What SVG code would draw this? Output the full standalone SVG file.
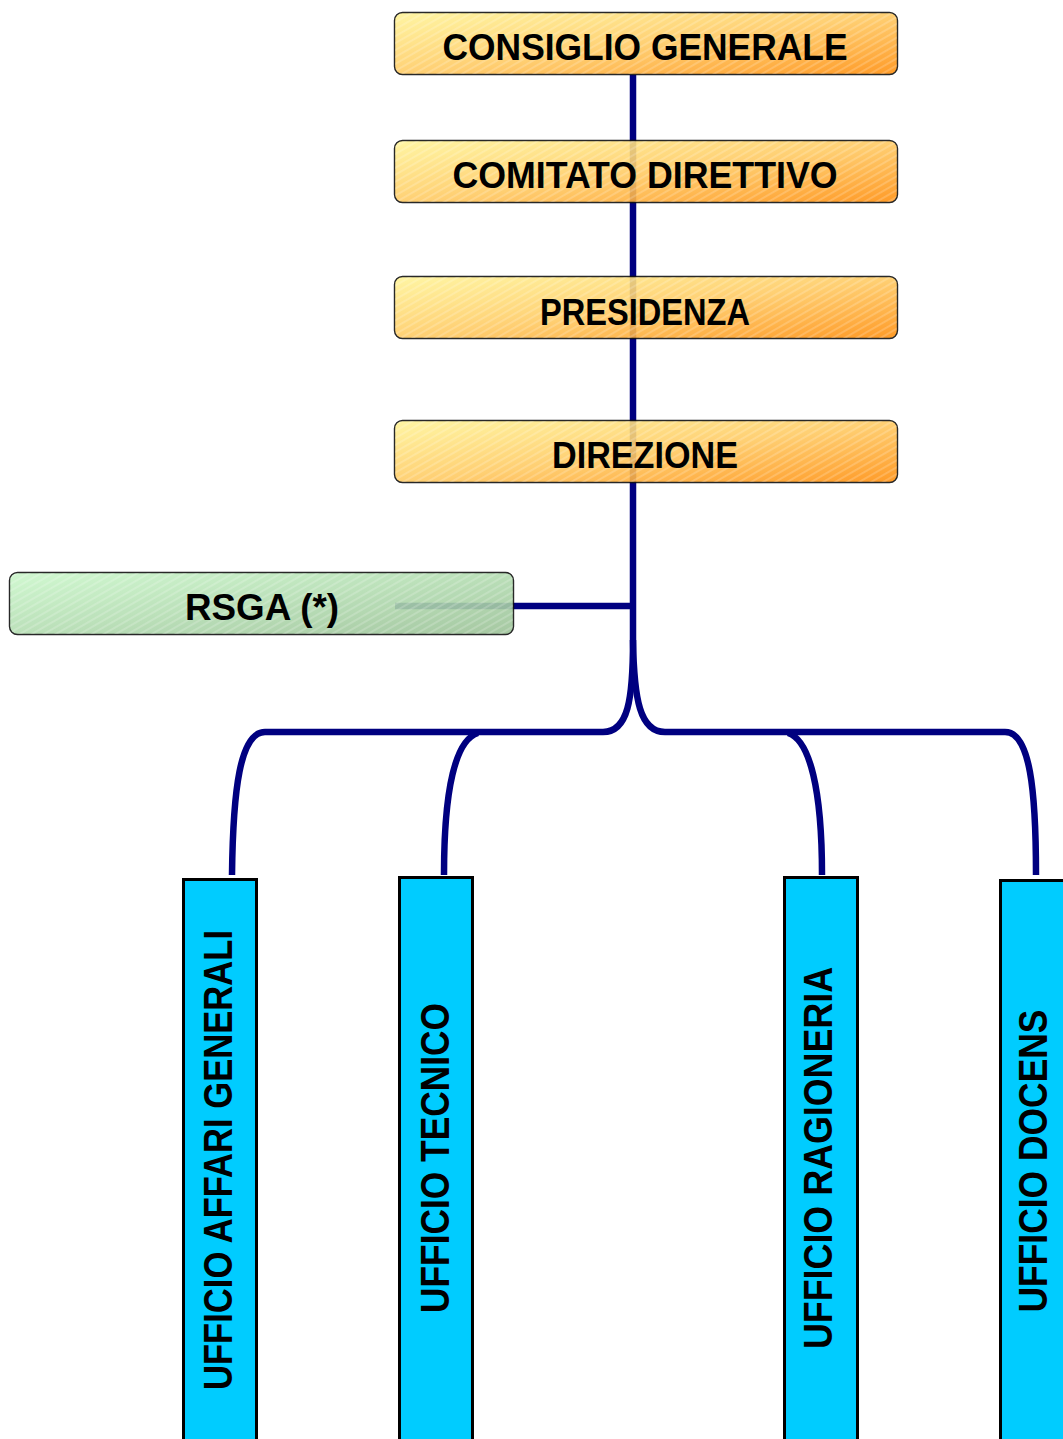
<svg xmlns="http://www.w3.org/2000/svg" width="1063" height="1439" viewBox="0 0 1063 1439">
<style>
.conn{fill:none;stroke:#000080;stroke-width:6.5;stroke-linecap:butt;stroke-linejoin:round}
.ybox{fill:url(#gy);stroke:#111;stroke-width:1.4;opacity:0.9}
.gbox{fill:url(#gg);stroke:#111;stroke-width:1.4;opacity:0.9}
.hatch{fill:url(#hatch);stroke:none}
.bbox{fill:#00CCFF;stroke:#000;stroke-width:3}
.t{font-family:"Liberation Sans",Arial,sans-serif;font-weight:bold;fill:#000;text-anchor:middle}
.th{font-size:37px}
.tv{font-size:40px}
</style>
<defs>
<linearGradient id="gy" x1="0" y1="0" x2="1" y2="1">
<stop offset="0" stop-color="#FFF59A"/>
<stop offset="0.5" stop-color="#FFCC66"/>
<stop offset="1" stop-color="#FF9010"/>
</linearGradient>
<linearGradient id="gg" x1="0" y1="0" x2="1" y2="1">
<stop offset="0" stop-color="#CCF8CC"/>
<stop offset="1" stop-color="#9CC298"/>
</linearGradient>
<pattern id="hatch" width="6" height="6" patternUnits="userSpaceOnUse" patternTransform="rotate(-30)">
<rect width="6" height="2" fill="#ffffff" opacity="0.18"/>
</pattern>
</defs>
<g id="connectors">
<path class="conn" d="M633,75 L633,640"/>
<path class="conn" d="M395,606 L633,606"/>
<path class="conn" d="M633,640 C633,700 628,732 603,732 L265,732 C240,732 233,790 232,875"/>
<path class="conn" d="M478,733 C455,740 444,790 444,875"/>
<path class="conn" d="M633,640 C634,700 640,732 665,732 L1005,732 C1030,732 1036,790 1036,875"/>
<path class="conn" d="M788,733 C810,740 822,790 822,875"/>
</g>
<g id="consiglio-generale">
<rect class="ybox" x="394.5" y="12.5" width="503" height="62" rx="8"/>
<rect class="hatch" x="395" y="13" width="502" height="61" rx="8"/>
<text class="t th" x="645" y="60" textLength="405" lengthAdjust="spacingAndGlyphs">CONSIGLIO GENERALE</text>
</g>
<g id="comitato-direttivo">
<rect class="ybox" x="394.5" y="140.5" width="503" height="62" rx="8"/>
<rect class="hatch" x="395" y="141" width="502" height="61" rx="8"/>
<text class="t th" x="645" y="188" textLength="385" lengthAdjust="spacingAndGlyphs">COMITATO DIRETTIVO</text>
</g>
<g id="presidenza">
<rect class="ybox" x="394.5" y="276.5" width="503" height="62" rx="8"/>
<rect class="hatch" x="395" y="277" width="502" height="61" rx="8"/>
<text class="t th" x="645" y="325" textLength="210" lengthAdjust="spacingAndGlyphs">PRESIDENZA</text>
</g>
<g id="direzione">
<rect class="ybox" x="394.5" y="420.5" width="503" height="62" rx="8"/>
<rect class="hatch" x="395" y="421" width="502" height="61" rx="8"/>
<text class="t th" x="645" y="468" textLength="186" lengthAdjust="spacingAndGlyphs">DIREZIONE</text>
</g>
<g id="rsga">
<rect class="gbox" x="9.5" y="572.5" width="504" height="62" rx="8"/>
<rect class="hatch" x="10" y="573" width="503" height="61" rx="8"/>
<text class="t th" x="262" y="620" textLength="154" lengthAdjust="spacingAndGlyphs">RSGA (*)</text>
</g>
<g id="ufficio-affari-generali">
<rect class="bbox" x="183.5" y="879.5" width="73" height="580"/>
<text class="t tv" transform="translate(232,1160) rotate(-90)" textLength="460" lengthAdjust="spacingAndGlyphs">UFFICIO AFFARI GENERALI</text>
</g>
<g id="ufficio-tecnico">
<rect class="bbox" x="399.5" y="877.5" width="73" height="580"/>
<text class="t tv" transform="translate(449,1158) rotate(-90)" textLength="310" lengthAdjust="spacingAndGlyphs">UFFICIO TECNICO</text>
</g>
<g id="ufficio-ragioneria">
<rect class="bbox" x="784.5" y="877.5" width="73" height="580"/>
<text class="t tv" transform="translate(832,1158) rotate(-90)" textLength="382" lengthAdjust="spacingAndGlyphs">UFFICIO RAGIONERIA</text>
</g>
<g id="ufficio-docens">
<rect class="bbox" x="1000.5" y="880.5" width="73" height="580"/>
<text class="t tv" transform="translate(1047,1161) rotate(-90)" textLength="303" lengthAdjust="spacingAndGlyphs">UFFICIO DOCENS</text>
</g>
</svg>
